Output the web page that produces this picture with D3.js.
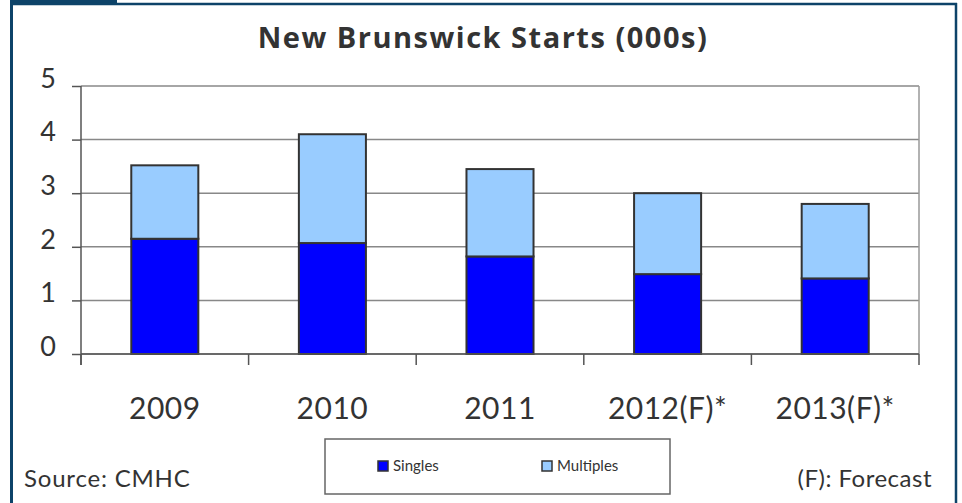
<!DOCTYPE html>
<html lang="en">
<head>
<meta charset="utf-8">
<title>New Brunswick Starts</title>
<script src="https://d3js.org/d3.v7.min.js"></script>
<style>
  body { margin: 0; background: #fff; }
  text { font-family: Lato, "Open Sans", sans-serif; fill: #333; }
</style>
</head>
<body>
<script>
// data (thousands of starts)
var years = ["2009", "2010", "2011", "2012(F)*", "2013(F)*"];
var singles = [2.15, 2.07, 1.82, 1.49, 1.41];
var multiples = [1.37, 2.03, 1.63, 1.51, 1.39];
var yTicks = [0, 1, 2, 3, 4, 5];
var seriesNames = ["Singles", "Multiples"];
var seriesColors = ["#0000ff", "#99ccff"];

var W = 962, H = 503;
var margin = {top: 86, right: 43, bottom: 149, left: 81};
var width = W - margin.left - margin.right,
    height = H - margin.top - margin.bottom;

var svg = d3.select("body").append("svg")
  .attr("width", W)
  .attr("height", H);

// outer frame
var frame = "#0d4369";
svg.append("rect").attr("x", 10).attr("y", 0).attr("width", 107).attr("height", 5).attr("fill", frame);
svg.append("line").attr("x1", 10).attr("x2", 957).attr("y1", 4).attr("y2", 4)
  .attr("stroke", frame).attr("stroke-width", 2.5);
svg.append("line").attr("x1", 11.5).attr("x2", 11.5).attr("y1", 0).attr("y2", H)
  .attr("stroke", frame).attr("stroke-width", 3);
svg.append("line").attr("x1", 956).attr("x2", 956).attr("y1", 3).attr("y2", H)
  .attr("stroke", frame).attr("stroke-width", 2.5);

// title
svg.append("text")
  .attr("x", 483).attr("y", 48)
  .attr("text-anchor", "middle")
  .style("font-family", "'Open Sans', sans-serif")
  .style("font-size", "29px")
  .style("letter-spacing", "1.5px")
  .style("font-weight", "bold")
  .text("New Brunswick Starts (000s)");

var g = svg.append("g").attr("transform", "translate(" + margin.left + "," + margin.top + ")");

var x = d3.scaleBand().domain(years).range([0, width]).paddingInner(0.6).paddingOuter(0.3);
var xb = d3.scaleBand().domain(years).range([0, width]);
var y = d3.scaleLinear().domain([0, 5]).range([height, 0]);

// gridlines
g.selectAll(".grid").data(yTicks).enter().append("line")
  .attr("x1", 0).attr("x2", width)
  .attr("y1", function(d){ return y(d); })
  .attr("y2", function(d){ return y(d); })
  .attr("stroke", "#888").attr("stroke-width", 1.5);
g.append("line").attr("x1", width).attr("x2", width).attr("y1", 0).attr("y2", height)
  .attr("stroke", "#999").attr("stroke-width", 1.5);

// stacked bars
var rows = years.map(function(yr, i){ return {year: yr, Singles: singles[i], Multiples: multiples[i]}; });
var stack = d3.stack().keys(seriesNames)(rows);

g.selectAll(".series").data(stack).enter().append("g")
  .attr("fill", function(d, i){ return seriesColors[i]; })
  .selectAll("rect").data(function(d){ return d; }).enter().append("rect")
  .attr("x", function(d){ return x(d.data.year); })
  .attr("width", x.bandwidth())
  .attr("y", function(d){ return y(d[1]); })
  .attr("height", function(d){ return y(d[0]) - y(d[1]); })
  .attr("stroke", "#333").attr("stroke-width", 2);

// y axis
var yAxis = g.append("g")
  .call(d3.axisLeft(y).tickValues(yTicks).tickSize(9).tickPadding(16).tickFormat(d3.format("d")));
yAxis.select(".domain").remove();
yAxis.selectAll("line").attr("stroke", "#555").attr("stroke-width", 1.5);
yAxis.selectAll("text").style("font-size", "27px").attr("dy", "0.05em");
g.append("line").attr("x1", 0).attr("x2", 0).attr("y1", 0).attr("y2", height + 11)
  .attr("stroke", "#555").attr("stroke-width", 1.5);

// x axis
var bounds = years.map(function(d){ return xb(d); }).concat([width]);
g.selectAll(".xtick").data(bounds).enter().append("line")
  .attr("x1", function(d){ return d; }).attr("x2", function(d){ return d; })
  .attr("y1", height).attr("y2", height + 11)
  .attr("stroke", "#555").attr("stroke-width", 1.5);
g.append("line").attr("x1", 0).attr("x2", width).attr("y1", height).attr("y2", height)
  .attr("stroke", "#555").attr("stroke-width", 1.5);
g.selectAll(".xlab").data(years).enter().append("text")
  .attr("x", function(d){ return xb(d) + xb.bandwidth() / 2; })
  .attr("y", height + 65)
  .attr("text-anchor", "middle")
  .style("font-size", "30px")
  .style("letter-spacing", "0.5px")
  .text(function(d){ return d; });

// legend
var leg = svg.append("g");
leg.append("rect").attr("x", 325).attr("y", 439).attr("width", 345).attr("height", 55)
  .attr("fill", "#fff").attr("stroke", "#666").attr("stroke-width", 1.5);
var legX = [378, 542];
seriesNames.forEach(function(name, i){
  leg.append("rect").attr("x", legX[i]).attr("y", 461).attr("width", 10).attr("height", 10)
    .attr("fill", seriesColors[i]).attr("stroke", "#333").attr("stroke-width", 1.5);
  leg.append("text").attr("x", legX[i] + 15).attr("y", 471)
    .style("font-size", "15px").text(name);
});

// notes
svg.append("text").attr("x", 24).attr("y", 487).style("font-size", "24px")
  .style("letter-spacing", "0.8px").text("Source: CMHC");
svg.append("text").attr("x", 932).attr("y", 487).attr("text-anchor", "end")
  .style("font-size", "24px").style("letter-spacing", "0.5px").text("(F): Forecast");
</script>
</body>
</html>
